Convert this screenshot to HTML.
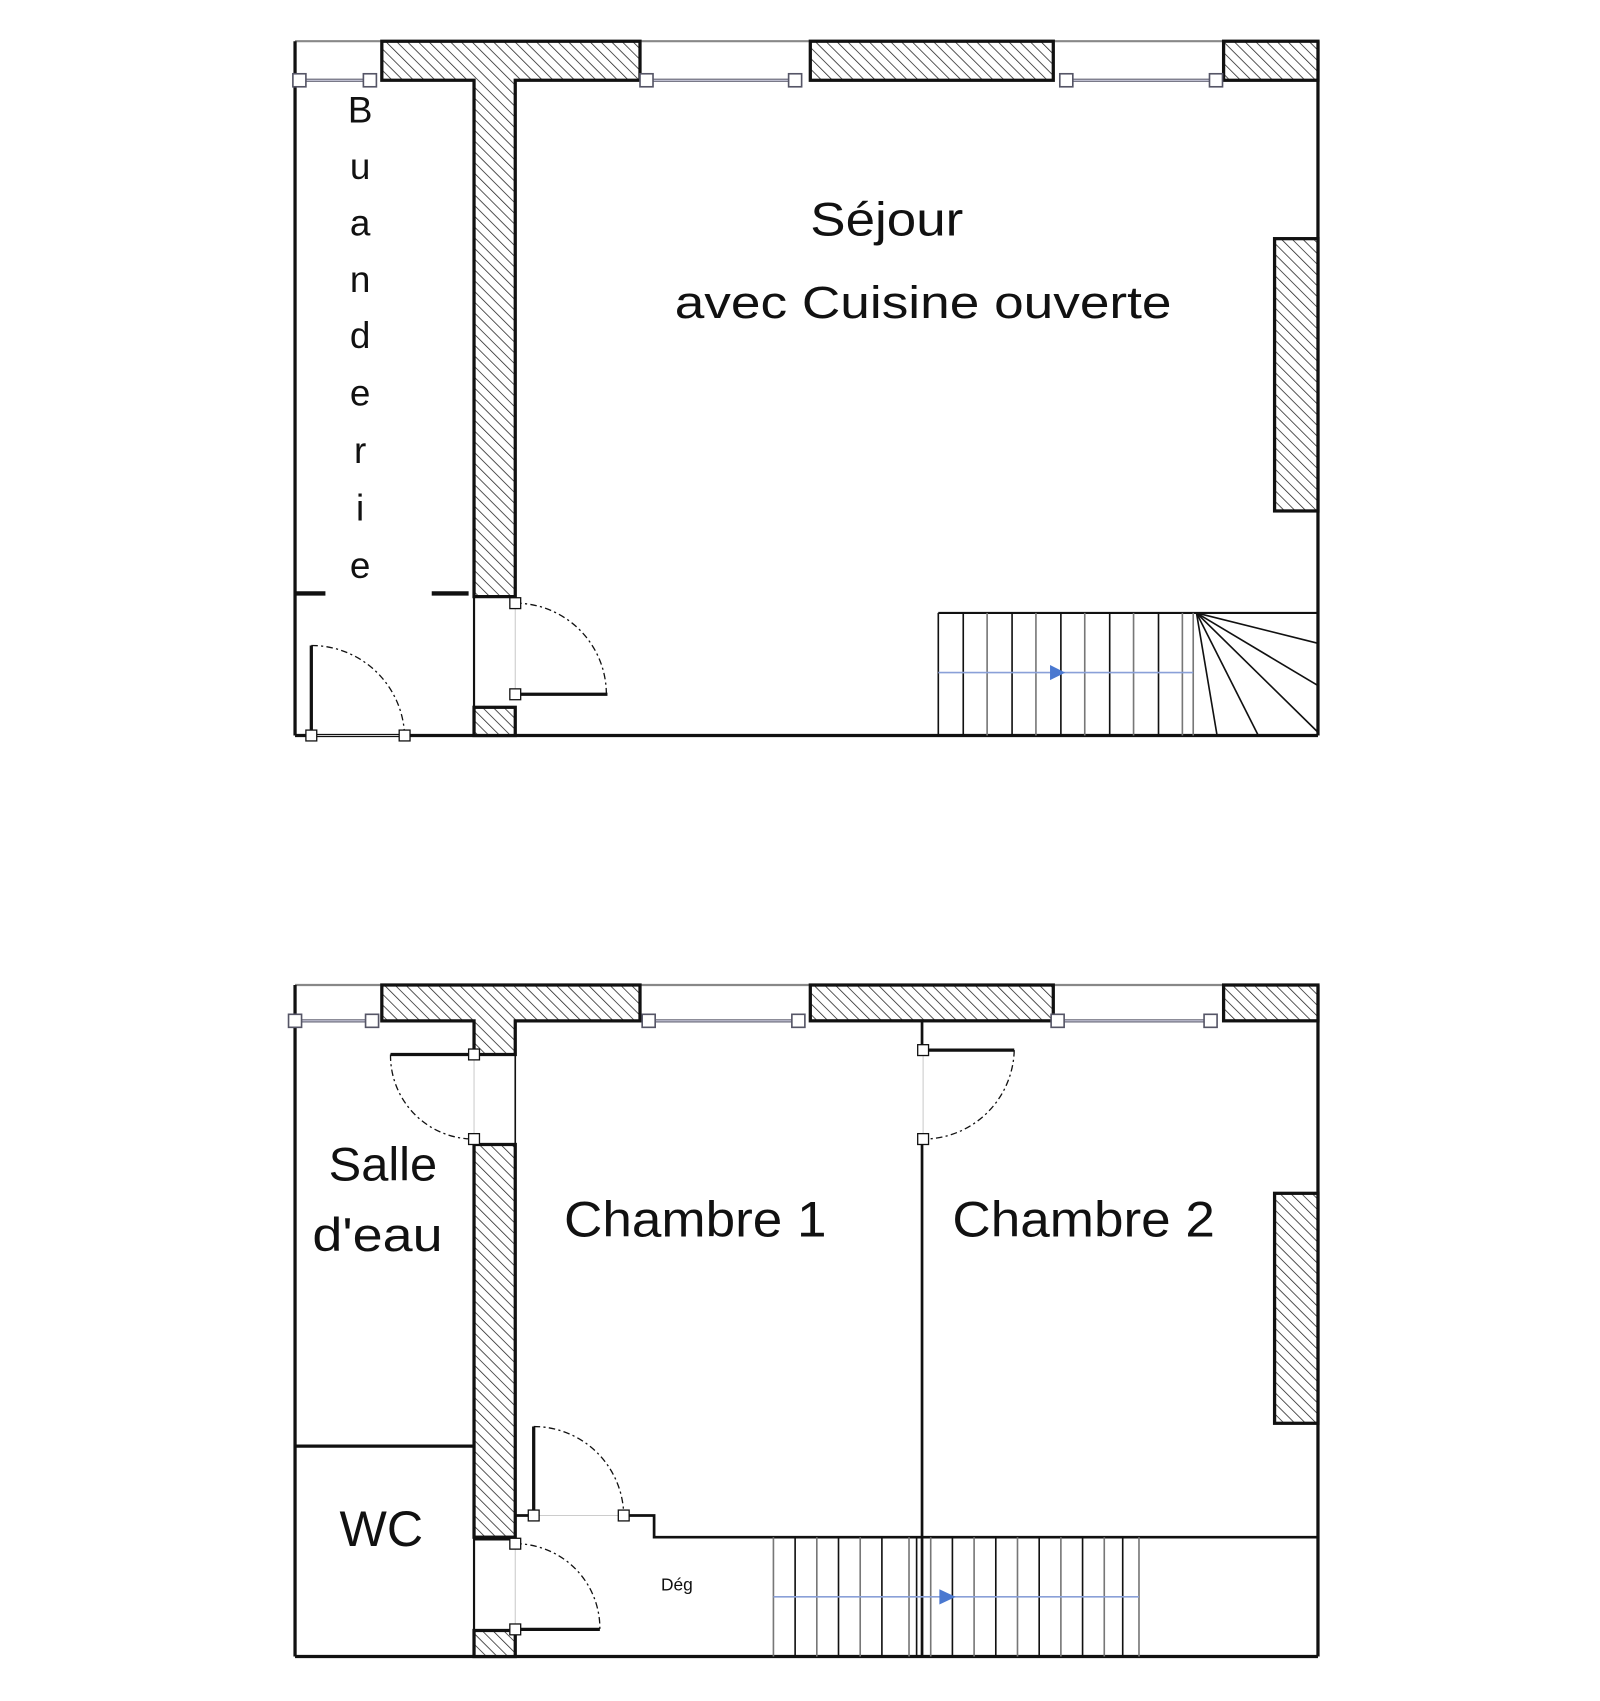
<!DOCTYPE html>
<html><head><meta charset="utf-8"><style>
html,body{margin:0;padding:0;background:#fff}
svg{display:block}
text{font-family:"Liberation Sans",sans-serif;fill:#111}
</style></head><body>
<svg width="1600" height="1701" viewBox="0 0 1475 1568" preserveAspectRatio="none" xmlns="http://www.w3.org/2000/svg">
<defs>
<pattern id="h" width="7" height="7" patternUnits="userSpaceOnUse" patternTransform="rotate(-45)">
<rect width="7" height="7" fill="#fff"/><line x1="0" y1="0" x2="0" y2="7" stroke="#222" stroke-width="1.4"/>
</pattern>
</defs>
<g stroke="#111" fill="none">
<!-- TOP PLAN -->
<line x1="272" y1="38" x2="1215" y2="38" stroke="#888" stroke-width="2"/>
<line x1="272" y1="38" x2="272" y2="678" stroke-width="3"/>
<line x1="1215" y1="38" x2="1215" y2="678" stroke-width="3"/>
<line x1="272" y1="678" x2="1215" y2="678" stroke-width="3"/>
<path d="M352 38H590V74H475V550H437V74H352Z" fill="url(#h)" stroke-width="3"/>
<rect x="747" y="38" width="224" height="36" fill="url(#h)" stroke-width="3"/>
<rect x="1128" y="38" width="87" height="36" fill="url(#h)" stroke-width="3"/>
<rect x="1175" y="220" width="40" height="251" fill="url(#h)" stroke-width="3"/>
<rect x="437" y="652" width="38" height="26" fill="url(#h)" stroke-width="3"/>
<line x1="437" y1="550" x2="437" y2="678" stroke-width="2"/>
<g stroke="#667" stroke-width="3"><line x1="276" y1="74" x2="341" y2="74"/><line x1="596" y1="74" x2="733" y2="74"/><line x1="983" y1="74" x2="1121" y2="74"/></g>
<g stroke="#ccd" stroke-width="1"><line x1="276" y1="74" x2="341" y2="74"/><line x1="596" y1="74" x2="733" y2="74"/><line x1="983" y1="74" x2="1121" y2="74"/></g>
<g fill="#fff" stroke="#556" stroke-width="1.5">
<rect x="270" y="68" width="12" height="12"/><rect x="335" y="68" width="12" height="12"/><rect x="590" y="68" width="12" height="12"/><rect x="727" y="68" width="12" height="12"/><rect x="977" y="68" width="12" height="12"/><rect x="1115" y="68" width="12" height="12"/>
</g>
<line x1="272" y1="547" x2="300" y2="547" stroke-width="4"/>
<line x1="398" y1="547" x2="432" y2="547" stroke-width="4"/>
<!-- doors top -->
<line x1="475" y1="640" x2="560" y2="640" stroke-width="3"/>
<line x1="475" y1="556" x2="475" y2="640" stroke="#ccc" stroke-width="1"/>
<path d="M475 556A84 84 0 0 1 559 640" stroke-dasharray="6 3 2 3" stroke-width="1.2"/>
<rect x="470" y="551" width="10" height="10" fill="#fff" stroke-width="1.2"/>
<rect x="470" y="635" width="10" height="10" fill="#fff" stroke-width="1.2"/>
<line x1="287" y1="595" x2="287" y2="678" stroke-width="3"/>
<line x1="287" y1="678" x2="373" y2="678" stroke="#ccc" stroke-width="1"/>
<path d="M287 595A86 86 0 0 1 373 678" stroke-dasharray="6 3 2 3" stroke-width="1.2"/>
<rect x="282" y="673" width="10" height="10" fill="#fff" stroke-width="1.2"/>
<rect x="368" y="673" width="10" height="10" fill="#fff" stroke-width="1.2"/>
<!-- stairs top -->
<line x1="865" y1="565" x2="1215" y2="565" stroke-width="2"/>
<line x1="865" y1="565" x2="865" y2="678" stroke-width="1.5"/>
<g stroke-width="1.5">
<line x1="888" y1="565" x2="888" y2="678"/><line x1="910" y1="565" x2="910" y2="678" stroke="#777"/><line x1="933" y1="565" x2="933" y2="678"/><line x1="955" y1="565" x2="955" y2="678" stroke="#777"/><line x1="978" y1="565" x2="978" y2="678"/><line x1="1000" y1="565" x2="1000" y2="678" stroke="#777"/><line x1="1023" y1="565" x2="1023" y2="678"/><line x1="1045" y1="565" x2="1045" y2="678" stroke="#777"/><line x1="1068" y1="565" x2="1068" y2="678"/><line x1="1090" y1="565" x2="1090" y2="678" stroke="#777"/><line x1="1100" y1="565" x2="1100" y2="678" stroke="#777"/>
<line x1="1103" y1="565" x2="1215" y2="593"/><line x1="1103" y1="565" x2="1215" y2="632"/><line x1="1103" y1="565" x2="1215" y2="675"/><line x1="1103" y1="565" x2="1160" y2="678"/><line x1="1103" y1="565" x2="1122" y2="678"/>
</g>
<line x1="865" y1="620" x2="1100" y2="620" stroke="#8aa0d8" stroke-width="1.5"/>
<path d="M968 613L982 620L968 627Z" fill="#4a78d0" stroke="none"/>

<!-- BOTTOM PLAN -->
<line x1="272" y1="908" x2="1215" y2="908" stroke="#888" stroke-width="2"/>
<line x1="272" y1="908" x2="272" y2="1527" stroke-width="3"/>
<line x1="1215" y1="908" x2="1215" y2="1527" stroke-width="3"/>
<line x1="272" y1="1527" x2="1215" y2="1527" stroke-width="3"/>
<path d="M352 908H590V941H475V972H437V941H352Z" fill="url(#h)" stroke-width="3"/>
<rect x="747" y="908" width="224" height="33" fill="url(#h)" stroke-width="3"/>
<rect x="1128" y="908" width="87" height="33" fill="url(#h)" stroke-width="3"/>
<rect x="437" y="1055" width="38" height="362" fill="url(#h)" stroke-width="3"/>
<rect x="437" y="1503" width="38" height="24" fill="url(#h)" stroke-width="3"/>
<rect x="1175" y="1100" width="40" height="212" fill="url(#h)" stroke-width="3"/>
<line x1="475" y1="941" x2="475" y2="1055" stroke-width="1.5"/>
<line x1="437" y1="1417" x2="437" y2="1527" stroke-width="2"/>
<line x1="272" y1="1333" x2="437" y2="1333" stroke-width="3"/>
<line x1="437" y1="1419" x2="475" y2="1419" stroke-width="2"/>
<line x1="850" y1="941" x2="850" y2="968" stroke-width="2.5"/>
<line x1="850" y1="1050" x2="850" y2="1527" stroke-width="2.5"/>
<path d="M475 1397H492M575 1397H603V1417H1215" stroke-width="2.5"/>
<g stroke="#667" stroke-width="3"><line x1="272" y1="941" x2="343" y2="941"/><line x1="598" y1="941" x2="736" y2="941"/><line x1="975" y1="941" x2="1116" y2="941"/></g>
<g stroke="#ccd" stroke-width="1"><line x1="272" y1="941" x2="343" y2="941"/><line x1="598" y1="941" x2="736" y2="941"/><line x1="975" y1="941" x2="1116" y2="941"/></g>
<g fill="#fff" stroke="#556" stroke-width="1.5">
<rect x="266" y="935" width="12" height="12"/><rect x="337" y="935" width="12" height="12"/><rect x="592" y="935" width="12" height="12"/><rect x="730" y="935" width="12" height="12"/><rect x="969" y="935" width="12" height="12"/><rect x="1110" y="935" width="12" height="12"/>
</g>
<!-- doors bottom -->
<line x1="360" y1="972" x2="437" y2="972" stroke-width="3"/>
<line x1="437" y1="972" x2="437" y2="1050" stroke="#ccc" stroke-width="1"/>
<path d="M360 972A77 77 0 0 0 437 1050" stroke-dasharray="6 3 2 3" stroke-width="1.2"/>
<rect x="432" y="967" width="10" height="10" fill="#fff" stroke-width="1.2"/>
<rect x="432" y="1045" width="10" height="10" fill="#fff" stroke-width="1.2"/>
<line x1="851" y1="968" x2="935" y2="968" stroke-width="3"/>
<line x1="851" y1="968" x2="851" y2="1050" stroke="#ccc" stroke-width="1"/>
<path d="M935 968A84 84 0 0 1 851 1050" stroke-dasharray="6 3 2 3" stroke-width="1.2"/>
<rect x="846" y="963" width="10" height="10" fill="#fff" stroke-width="1.2"/>
<rect x="846" y="1045" width="10" height="10" fill="#fff" stroke-width="1.2"/>
<line x1="492" y1="1315" x2="492" y2="1397" stroke-width="3"/>
<line x1="492" y1="1397" x2="575" y2="1397" stroke="#ccc" stroke-width="1"/>
<path d="M492 1315A83 83 0 0 1 575 1397" stroke-dasharray="6 3 2 3" stroke-width="1.2"/>
<rect x="487" y="1392" width="10" height="10" fill="#fff" stroke-width="1.2"/>
<rect x="570" y="1392" width="10" height="10" fill="#fff" stroke-width="1.2"/>
<line x1="475" y1="1502" x2="553" y2="1502" stroke-width="3"/>
<line x1="475" y1="1423" x2="475" y2="1502" stroke="#ccc" stroke-width="1"/>
<path d="M475 1423A78 78 0 0 1 553 1502" stroke-dasharray="6 3 2 3" stroke-width="1.2"/>
<rect x="470" y="1418" width="10" height="10" fill="#fff" stroke-width="1.2"/>
<rect x="470" y="1497" width="10" height="10" fill="#fff" stroke-width="1.2"/>
<!-- stairs bottom -->
<g stroke-width="1.5">
<line x1="713" y1="1417" x2="713" y2="1527" stroke="#777"/><line x1="733" y1="1417" x2="733" y2="1527"/><line x1="753" y1="1417" x2="753" y2="1527" stroke="#777"/><line x1="773" y1="1417" x2="773" y2="1527"/><line x1="793" y1="1417" x2="793" y2="1527" stroke="#777"/><line x1="813" y1="1417" x2="813" y2="1527"/><line x1="838" y1="1417" x2="838" y2="1527" stroke="#777"/><line x1="845" y1="1417" x2="845" y2="1527"/>
<line x1="858" y1="1417" x2="858" y2="1527" stroke="#777"/><line x1="878" y1="1417" x2="878" y2="1527"/><line x1="898" y1="1417" x2="898" y2="1527" stroke="#777"/><line x1="918" y1="1417" x2="918" y2="1527"/><line x1="938" y1="1417" x2="938" y2="1527" stroke="#777"/><line x1="958" y1="1417" x2="958" y2="1527"/><line x1="978" y1="1417" x2="978" y2="1527" stroke="#777"/><line x1="998" y1="1417" x2="998" y2="1527"/><line x1="1018" y1="1417" x2="1018" y2="1527" stroke="#777"/><line x1="1035" y1="1417" x2="1035" y2="1527"/><line x1="1050" y1="1417" x2="1050" y2="1527" stroke="#777"/>
</g>
<line x1="713" y1="1472" x2="1050" y2="1472" stroke="#8aa0d8" stroke-width="1.5"/>
<path d="M866 1465L881 1472L866 1479Z" fill="#4a78d0" stroke="none"/>
</g>
<!-- text -->
<text x="747" y="217" font-size="44" textLength="141" lengthAdjust="spacingAndGlyphs">Séjour</text>
<text x="622" y="293" font-size="42" textLength="458" lengthAdjust="spacingAndGlyphs">avec Cuisine ouverte</text>
<g font-size="34" text-anchor="middle">
<text x="332" y="113">B</text><text x="332" y="165">u</text><text x="332" y="217">a</text><text x="332" y="269">n</text><text x="332" y="321">d</text><text x="332" y="374">e</text><text x="332" y="427">r</text><text x="332" y="480">i</text><text x="332" y="533">e</text>
</g>
<text x="303" y="1088" font-size="44" textLength="100" lengthAdjust="spacingAndGlyphs">Salle</text>
<text x="288" y="1153" font-size="44" textLength="120" lengthAdjust="spacingAndGlyphs">d'eau</text>
<text x="520" y="1140" font-size="46" textLength="242" lengthAdjust="spacingAndGlyphs">Chambre 1</text>
<text x="878" y="1140" font-size="46" textLength="242" lengthAdjust="spacingAndGlyphs">Chambre 2</text>
<text x="313" y="1425" font-size="46" textLength="77" lengthAdjust="spacingAndGlyphs">WC</text>
<text x="624" y="1466" font-size="16" text-anchor="middle">Dég</text>
</svg>
</body></html>
